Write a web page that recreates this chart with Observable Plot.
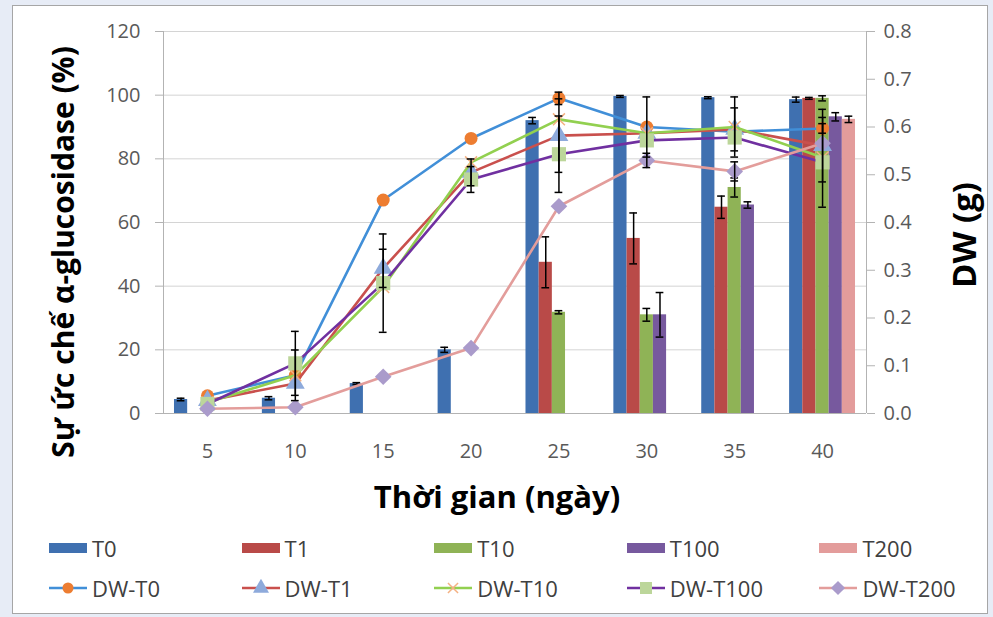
<!DOCTYPE html>
<html><head><meta charset="utf-8">
<script src="https://cdn.jsdelivr.net/npm/d3@7"></script>
<script src="https://cdn.jsdelivr.net/npm/@observablehq/plot@0.6"></script>
<style>
body{margin:0;background:#e7ecf6;width:993px;height:617px;overflow:hidden;font-family:"Open Sans",sans-serif}
#frame{position:absolute;left:12px;top:5px;width:976px;height:609px;background:#fff;border:1px solid #a6a6a6;box-sizing:border-box}
#chart{position:absolute;left:0;top:0}
.title{position:absolute;font-weight:bold;color:#000;white-space:nowrap;transform-origin:center center;line-height:1}
.leg{position:absolute;display:flex;align-items:center;font-size:22px;color:#404040;white-space:nowrap;transform:translateY(-50%);line-height:1}
.leg svg{margin-right:4px}
</style>
</head><body>
<div id="frame">
  <div id="chart"></div>
  <div class="title" id="xt" style="font-size:31px">Thời gian (ngày)</div>
  <div class="title" id="ylt" style="font-size:30px">Sự ức chế α-glucosidase (%)</div>
  <div class="title" id="yrt" style="font-size:33px">DW (g)</div>
  <div id="legend"></div>
</div>
<script>
// ---- data ----
const days = [5, 10, 15, 20, 25, 30, 35, 40];
const leftTicks = [0, 20, 40, 60, 80, 100, 120];
const rightTicks = [0, 0.1, 0.2, 0.3, 0.4, 0.5, 0.6, 0.7, 0.8];

const barSeries = ["T0", "T1", "T10", "T100", "T200"];
const T0      = [4.4, 4.8, 9.4, 20, 92, 99.6, 99.2, 98.6];
const T0err   = [0.4, 0.5, 0.3, 0.8, 1, 0.3, 0.3, 0.8];
const T1      = [null, null, null, null, 47.5, 55, 64.8, 99];
const T1err   = [0, 0, 0, 0, 8, 8, 3.5, 0.3];
const T10     = [null, null, null, null, 31.8, 31, 71, 99];
const T10err  = [0, 0, 0, 0, 0.5, 2, 3, 0.8];
const T100    = [null, null, null, null, null, 31, 65.5, 93.2];
const T100err = [0, 0, 0, 0, 0, 7, 1, 1.3];
const T200    = [null, null, null, null, null, null, null, 92.4];
const T200err = [0, 0, 0, 0, 0, 0, 0, 1];

const lineSeries = ["DW-T0", "DW-T1", "DW-T10", "DW-T100", "DW-T200"];
const DW_T0      = [0.037, 0.08, 0.447, 0.576, 0.66, 0.60, 0.59, 0.597];
const DW_T0err   = [0, 0, 0, 0, 0.013, 0.063, 0, 0.01];
const DW_T1      = [0.027, 0.063, 0.304, 0.505, 0.582, 0.587, 0.595, 0.561];
const DW_T1err   = [0, 0, 0.04, 0.028, 0.077, 0, 0.045, 0.076];
const DW_T10     = [0.023, 0.08, 0.265, 0.526, 0.616, 0.587, 0.60, 0.536];
const DW_T10err  = [0, 0.053, 0, 0, 0, 0, 0.063, 0];
const DW_T100    = [0.02, 0.105, 0.273, 0.49, 0.543, 0.572, 0.578, 0.526];
const DW_T100err = [0, 0.067, 0.103, 0.027, 0.08, 0, 0, 0.094];
const DW_T200    = [0.01, 0.013, 0.077, 0.137, 0.434, 0.53, 0.507, 0.566];
const DW_T200err = [0, 0, 0, 0, 0, 0.015, 0.02, 0];

// ---- styles ----
const barColors = ["#3f70b0", "#b94a48", "#8fb356", "#77599e", "#e39c9b"];
const lineColors = ["#418fd8", "#c9504d", "#92d050", "#7030a0", "#e39d9b"];
const markerSymbols = ["circle", "triangle", "times", "square", "diamond2"];
const markerColors = ["#ed7d31", "#8eaadb", "#f4b183", "#bcd69a", "#aa9bcb"];
const markerR = [6.5, 7, 5.5, 8, 7.5];

const barValues = [T0, T1, T10, T100, T200];
const barErrors = [T0err, T1err, T10err, T100err, T200err];
const lineValues = [DW_T0, DW_T1, DW_T10, DW_T100, DW_T200];
const lineErrors = [DW_T0err, DW_T1err, DW_T10err, DW_T100err, DW_T200err];

const K = 120 / 0.8;   // secondary axis mapping (DW g -> left units)
const BW = 0.75;       // bar width in day units
const CAP = 0.22;      // error-bar cap half width in day units

const marks = [];
marks.push(Plot.gridY(leftTicks, {stroke: "#d4d4d4", strokeOpacity: 1}));

// bars
barSeries.forEach((s, i) => {
  const data = days.map((d, j) => ({day: d, v: barValues[i][j], e: barErrors[i][j]})).filter(r => r.v != null);
  marks.push(Plot.rect(data, {
    x1: r => r.day + (i - 2.5) * BW, x2: r => r.day + (i - 1.5) * BW,
    y1: 0, y2: "v", fill: barColors[i]
  }));
  const ed = data.filter(r => r.e > 0);
  const cx = r => r.day + (i - 2) * BW;
  marks.push(Plot.ruleX(ed, {x: cx, y1: r => r.v - r.e, y2: r => r.v + r.e, stroke: "#000", strokeWidth: 1.5}));
  marks.push(Plot.ruleY(ed, {y: r => r.v + r.e, x1: r => cx(r) - CAP, x2: r => cx(r) + CAP, stroke: "#000", strokeWidth: 1.5}));
  marks.push(Plot.ruleY(ed, {y: r => r.v - r.e, x1: r => cx(r) - CAP, x2: r => cx(r) + CAP, stroke: "#000", strokeWidth: 1.5}));
});

// axes lines
marks.push(Plot.ruleX([2.5], {stroke: "#b3b3b3"}));
marks.push(Plot.ruleX([42.5], {stroke: "#b3b3b3"}));
marks.push(Plot.ruleY([0], {stroke: "#b3b3b3"}));

// lines
lineSeries.forEach((s, i) => {
  const data = days.map((d, j) => ({day: d, v: lineValues[i][j], e: lineErrors[i][j]}));
  marks.push(Plot.line(data, {x: "day", y: r => r.v * K, stroke: lineColors[i], strokeWidth: 2.6}));
  const sym = markerSymbols[i];
  if (sym === "times") {
    marks.push(Plot.dot(data, {x: "day", y: r => r.v * K, symbol: sym, r: markerR[i], stroke: markerColors[i], strokeWidth: 1.5}));
  } else {
    marks.push(Plot.dot(data, {x: "day", y: r => r.v * K, symbol: sym, r: markerR[i], fill: markerColors[i]}));
  }
});
// DW error bars
lineSeries.forEach((s, i) => {
  const ed = days.map((d, j) => ({day: d, v: lineValues[i][j], e: lineErrors[i][j]})).filter(r => r.e > 0);
  marks.push(Plot.ruleX(ed, {x: "day", y1: r => (r.v - r.e) * K, y2: r => (r.v + r.e) * K, stroke: "#000", strokeWidth: 1.5}));
  marks.push(Plot.ruleY(ed, {y: r => (r.v + r.e) * K, x1: r => r.day - CAP, x2: r => r.day + CAP, stroke: "#000", strokeWidth: 1.5}));
  marks.push(Plot.ruleY(ed, {y: r => (r.v - r.e) * K, x1: r => r.day - CAP, x2: r => r.day + CAP, stroke: "#000", strokeWidth: 1.5}));
});

// axes
marks.push(Plot.axisY({ticks: leftTicks, anchor: "left", tickSize: 8, tickPadding: 15, stroke: "#b3b3b3", fill: "#595959", label: null}));
marks.push(Plot.axisY({ticks: rightTicks.map(t => t * K), anchor: "right", tickSize: 8, tickPadding: 9,
  tickFormat: t => (t / K).toFixed(1), stroke: "#b3b3b3", fill: "#595959", label: null}));
marks.push(Plot.axisX({ticks: days, anchor: "bottom", tickSize: 0, tickPadding: 30, fill: "#595959", label: null, tickFormat: d => String(d)}));

const chart = Plot.plot({
  width: 974, height: 520,
  marginLeft: 150, marginRight: 121, marginTop: 25, marginBottom: 113,
  x: {domain: [2.5, 42.5]},
  y: {domain: [0, 120]},
  style: {fontFamily: "Open Sans", fontSize: "20px", background: "transparent", overflow: "visible"},
  marks
});
document.getElementById("chart").appendChild(chart);

// titles
function place(id, cx, cy, rot) {
  const el = document.getElementById(id);
  el.style.left = cx + "px"; el.style.top = cy + "px";
  el.style.transform = "translate(-50%,-50%)" + (rot ? " rotate(-90deg)" : "");
}
place("xt", 484, 490, false);
place("ylt", 50, 246, true);
place("yrt", 950, 229, true);

// legend
const leg = document.getElementById("legend");
function item(left, top, label, draw) {
  const div = document.createElement("div");
  div.className = "leg";
  div.style.left = left + "px"; div.style.top = top + "px";
  const svg = d3.create("svg").attr("width", 40).attr("height", 18);
  draw(svg);
  div.appendChild(svg.node());
  const sp = document.createElement("span"); sp.textContent = label;
  div.appendChild(sp);
  leg.appendChild(div);
}
const symMap = {circle: d3.symbolCircle, triangle: d3.symbolTriangle, times: d3.symbolTimes, square: d3.symbolSquare, diamond2: d3.symbolDiamond2};
barSeries.forEach((s, i) => {
  item(35 + i * 192.6, 542, s, svg => svg.append("rect").attr("x", 1).attr("y", 4).attr("width", 38).attr("height", 10).attr("fill", barColors[i]));
});
lineSeries.forEach((s, i) => {
  item(35 + i * 192.6, 582, s, svg => {
    svg.append("line").attr("x1", 1).attr("x2", 39).attr("y1", 9).attr("y2", 9).attr("stroke", lineColors[i]).attr("stroke-width", 2.6);
    const r = markerR[i] * 0.85;
    const p = d3.symbol(symMap[markerSymbols[i]], Math.PI * r * r)();
    const path = svg.append("path").attr("d", p).attr("transform", "translate(20,9)");
    if (markerSymbols[i] === "times") path.attr("fill", "none").attr("stroke", markerColors[i]).attr("stroke-width", 1.5);
    else path.attr("fill", markerColors[i]);
  });
});
</script>
</body></html>
